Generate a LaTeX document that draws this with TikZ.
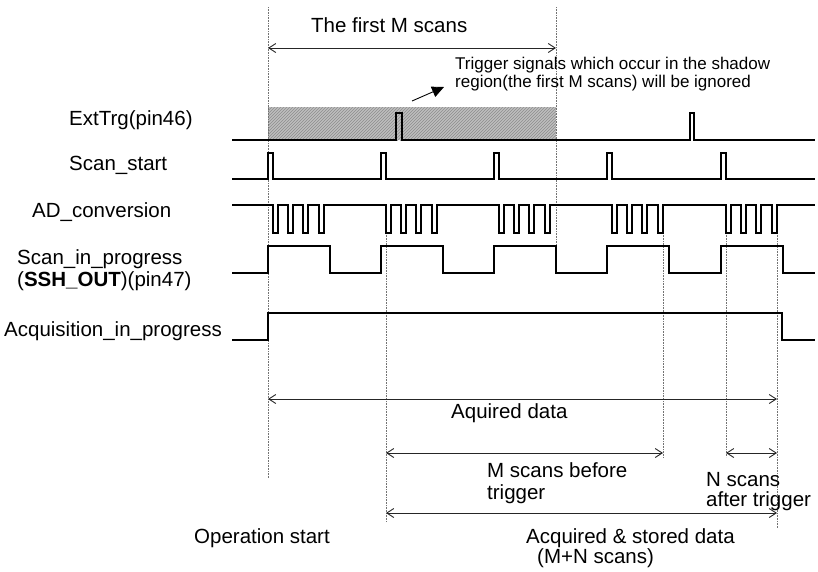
\documentclass[tikz,border=0pt]{standalone}
\usepackage{fontspec}
\setmainfont{Liberation Sans}
\usetikzlibrary{arrows.meta,patterns}
\begin{document}
\begin{tikzpicture}[x=1pt,y=-1pt,
  lbl/.style={anchor=base west, inner sep=0pt, font=\fontsize{20.5}{24}\selectfont},
  note/.style={anchor=base west, inner sep=0pt, font=\fontsize{17}{18}\selectfont},
  wave/.style={line width=1.2pt, black, line join=miter},
  guide/.style={black!55, line width=0.8pt, dash pattern=on 0.8pt off 0.8pt},
  span/.style={line width=0.9pt, black!85, {Straight Barb[length=7pt,width=9pt]}-{Straight Barb[length=7pt,width=9pt]}},
  pointer/.style={line width=0.9pt, black, -{Triangle[length=12pt,width=11pt]}},
  shade/.style={fill=black!25, postaction={pattern=north east lines, pattern color=black!45}},
]
\useasboundingbox (0,0) rectangle (818,571);

% time marks
\coordinate (t0) at (268,0);
\coordinate (tM) at (556,0);
\coordinate (t1) at (386,0);
\coordinate (t2) at (663,0);
\coordinate (t3) at (726,0);
\coordinate (t4) at (777,0);

% ignored region of the trigger line
\path[shade] (268,107) rectangle (556,140);

% guide lines
\draw[guide] (t0 |- 0,7) -- (t0 |- 0,478);
\draw[guide] (tM |- 0,7) -- (tM |- 0,273);
\draw[guide] (t1 |- 0,233) -- (t1 |- 0,522);
\draw[guide] (t2 |- 0,233) -- (t2 |- 0,458);
\draw[guide] (t3 |- 0,233) -- (t3 |- 0,457);
\draw[guide] (t4 |- 0,233) -- (t4 |- 0,528);

% signal names
\node[lbl] (ext)  at (69,125) {ExtTrg(pin46)};
\node[lbl] (scs)  at (69,170) {Scan\_start};
\node[lbl] (adc)  at (32,217) {AD\_conversion};
\node[lbl] (sip)  at (17,264) {Scan\_in\_progress};
\node[lbl] (ssh)  at (17,286) {(\textbf{SSH\_OUT})(pin47)};
\node[lbl] (aip)  at (4,336)  {Acquisition\_in\_progress};

% ExtTrg
\draw[wave] (232,140) -- (396,140) -- (396,113) -- (402,113) -- (402,140)
  -- (690,140) -- (690,113) -- (694,113) -- (694,140) -- (815,140);

% Scan_start
\draw[wave] (232,179) \foreach \s in {268,381,494,607,721} {
  -- (\s,179) -- (\s,153) -- (\s+5,153) -- (\s+5,179) } -- (815,179);

% AD_conversion
\draw[wave] (232,205) \foreach \s in {268,381,494,607,721} {
  \foreach \d in {5,20,35,51} {
  -- (\s+\d,205) -- (\s+\d,233) -- (\s+\d+5,233) -- (\s+\d+5,205) } } -- (815,205);

% Scan_in_progress
\draw[wave] (232,273) \foreach \s in {268,381,494,607,721} {
  -- (\s,273) -- (\s,246) -- (\s+62,246) -- (\s+62,273) } -- (815,273);

% Acquisition_in_progress
\draw[wave] (232,340) -- (268,340) -- (268,313) -- (782,313) -- (782,340) -- (815,340);

% spans
\coordinate (fmL) at (t0 |- 0,48);   \coordinate (fmR) at (tM |- 0,48);
\coordinate (aqL) at (t0 |- 0,399);  \coordinate (aqR) at (t4 |- 0,399);
\coordinate (mbL) at (t1 |- 0,453);  \coordinate (mbR) at (t2 |- 0,453);
\coordinate (naL) at (t3 |- 0,453);  \coordinate (naR) at (t4 |- 0,453);
\coordinate (asL) at (t1 |- 0,513);  \coordinate (asR) at (t4 |- 0,513);
\draw[span] (fmL) -- (fmR);
\draw[span] (aqL) -- (aqR);
\draw[span] (mbL) -- (mbR);
\draw[span] (naL) -- (naR);
\draw[span] (asL) -- (asR);

% captions
\node[lbl] (first) at (311,32) {The first M scans};
\node[note] (trg1) at (455,69) {Trigger signals which occur in the shadow};
\node[note] (trg2) at (455,87) {region(the first M scans) will be ignored};
\coordinate (pS) at (412,101);
\coordinate (pE) at (444,87);
\draw[pointer] (pS) -- (pE);

\node[lbl] (aqd)  at (451,418) {Aquired data};
\node[lbl] (mb1)  at (487,477) {M scans before};
\node[lbl] (mb2)  at (487,499) {trigger};
\node[lbl] (na1)  at (706,486) {N scans};
\node[lbl] (na2)  at (706,506) {after trigger};
\node[lbl] (ops)  at (194,543) {Operation start};
\node[lbl] (as1)  at (526,543) {Acquired \& stored data};
\node[lbl] (as2)  at (537,563) {(M+N scans)};
\end{tikzpicture}
\end{document}
